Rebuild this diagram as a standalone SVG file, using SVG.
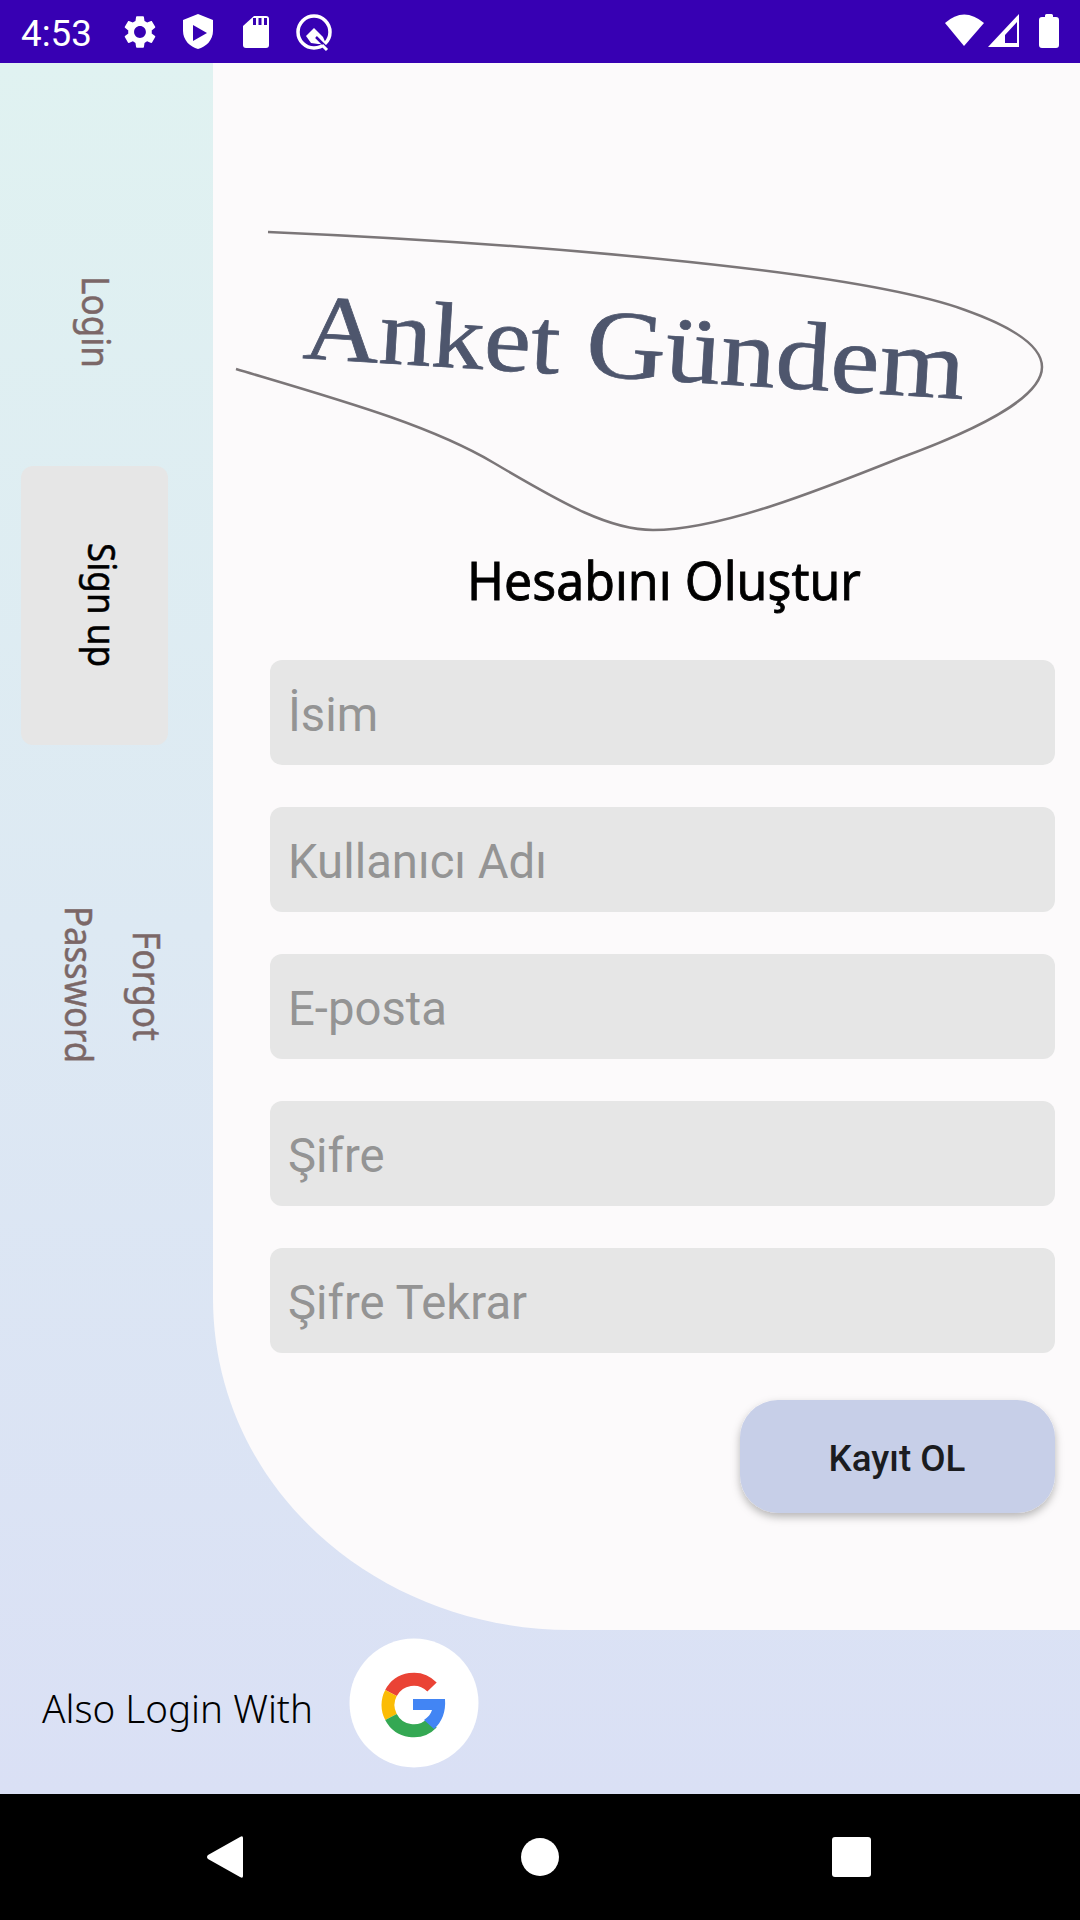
<svg xmlns="http://www.w3.org/2000/svg" width="1080" height="1920" viewBox="0 0 1080 1920">
<style>
.side{font-family:"Noto Sans","Open Sans",sans-serif;font-size:39px;fill:#7b6767;stroke:#7b6767;stroke-width:0.500}
.ph{font-family:Roboto,sans-serif;font-size:47.25px;fill:#949494}
.field{fill:#e6e6e6}
.sb{fill:#fff}
.hole{fill:#3700b3}
.g{fill:none;stroke-width:13}
</style>
<defs>
<linearGradient id="bg" x1="0" y1="63" x2="0" y2="1794" gradientUnits="userSpaceOnUse">
<stop offset="0" stop-color="#e0f2f1"/><stop offset="1" stop-color="#dae0f5"/>
</linearGradient>
<filter id="sh" x="-10%" y="-20%" width="120%" height="150%"><feDropShadow dx="0" dy="4" stdDeviation="4" flood-color="#000" flood-opacity="0.28"/></filter>
</defs>
<rect width="1080" height="1920" fill="url(#bg)"/>
<path d="M213 63H1080V1630H570C380 1630 213 1490 213 1298Z" fill="#fcfafb"/>
<g id="status-bar">
<rect width="1080" height="63" fill="#3700b3"/>
<text x="21" y="46" font-family="Roboto,sans-serif" font-size="36.75" fill="#fff">4:53</text>
<path class="sb" transform="translate(120.3,12.3) scale(1.64)" fill-rule="evenodd" d="M19.14 12.94c.04-.3.06-.61.06-.94 0-.32-.02-.64-.07-.94l2.03-1.58c.18-.14.23-.41.12-.61l-1.92-3.32c-.12-.22-.37-.29-.59-.22l-2.39.96c-.5-.38-1.03-.7-1.62-.94l-.36-2.54c-.04-.24-.24-.41-.48-.41h-3.84c-.24 0-.43.17-.47.41l-.36 2.54c-.59.24-1.13.57-1.62.94l-2.39-.96c-.22-.08-.47 0-.59.22L2.74 8.87c-.12.21-.08.47.12.61l2.03 1.58c-.05.3-.07.63-.07.94s.02.64.07.94l-2.03 1.58c-.18.14-.23.41-.12.61l1.92 3.32c.12.22.37.29.59.22l2.39-.96c.5.38 1.03.7 1.62.94l.36 2.54c.05.24.24.41.48.41h3.84c.24 0 .44-.17.47-.41l.36-2.54c.59-.24 1.13-.56 1.62-.94l2.39.96c.22.08.47 0 .59-.22l1.92-3.32c.12-.22.07-.47-.12-.61l-2.01-1.58zM12 15.6c-1.98 0-3.6-1.62-3.6-3.6s1.62-3.6 3.6-3.6 3.6 1.62 3.6 3.6-1.62 3.6-3.6 3.6z"/>
<path class="sb" d="M198 14L213 20V31C213 40 206 47 198 49C190 47 183 40 183 31V20Z"/>
<path class="hole" d="M193 25L207 33L193 41Z"/>
<path class="sb" d="M254 16H266Q269 16 269 19V45Q269 48 266 48H246Q243 48 243 45V26Z"/>
<path class="hole" d="M253 18h3v7h-3zM258.500 18h3v7h-3zM264 18h3v7h-3z"/>
<circle cx="314" cy="32" r="16" fill="none" stroke="#fff" stroke-width="3.500"/>
<path class="sb" d="M306 36L314 28L323 37L326 44L318 44L311 43Z"/>
<path d="M316 37L328 49" stroke="#3700b3" stroke-width="2.500"/>
<path d="M322 45L327 50" stroke="#fff" stroke-width="3"/>
<path class="sb" d="M945 23Q964 6 984 23L964 46Z"/>
<path class="sb" fill-rule="evenodd" d="M988 47L1019 14V47ZM1005 43H1017V22L1005 35Z"/>
<path class="sb" d="M1045 17V15.500Q1045 14 1046.500 14H1051.500Q1053 14 1053 15.500V17H1056Q1059 17 1059 20V45Q1059 48 1056 48H1042Q1039 48 1039 45V20Q1039 17 1042 17Z"/>
</g>
<g id="nav-login"><text class="side" transform="translate(82,276) rotate(90)" textLength="92" lengthAdjust="spacingAndGlyphs">Login</text></g>
<g id="nav-signup">
<rect x="21" y="466" width="147" height="279" rx="12" fill="#e6e6e6"/>
<text class="side" style="fill:#000;stroke:#000" transform="translate(88,543) rotate(90)" textLength="124" lengthAdjust="spacingAndGlyphs">Sign up</text>
</g>
<g id="nav-forgot">
<text class="side" transform="translate(133,931) rotate(90)" textLength="110" lengthAdjust="spacingAndGlyphs">Forgot</text>
<text class="side" transform="translate(65,906) rotate(90)" textLength="157" lengthAdjust="spacingAndGlyphs">Password</text>
</g>
<g id="logo">
<path d="M268 232C500 242 850 268 965 310C1010 326 1042 345 1042 367C1042 395 990 425 900 458C820 490 720 530 653 530C610 530 565 505 494 463C430 425 340 400 236 369" fill="none" stroke="#7b7678" stroke-width="2.500"/>
<text transform="matrix(1.128 0.07 -0.062 1 302 358)" font-family="'Liberation Serif',serif" fill="#4e566d" stroke="#4e566d" stroke-width="0.700"><tspan font-size="93">Anket </tspan><tspan font-size="97.500">Gündem</tspan></text>
</g>
<text id="title" x="664" y="600" text-anchor="middle" font-family="'Noto Sans',sans-serif" font-size="52" fill="#000" stroke="#000" stroke-width="0.800" textLength="394" lengthAdjust="spacingAndGlyphs">Hesabını Oluştur</text>
<g id="field-name"><rect class="field" x="270" y="660" width="785" height="105" rx="12"/><text class="ph" x="288" y="731">İsim</text></g>
<g id="field-user"><rect class="field" x="270" y="807" width="785" height="105" rx="12"/><text class="ph" x="288" y="878">Kullanıcı Adı</text></g>
<g id="field-email"><rect class="field" x="270" y="954" width="785" height="105" rx="12"/><text class="ph" x="288" y="1025">E-posta</text></g>
<g id="field-pass"><rect class="field" x="270" y="1101" width="785" height="105" rx="12"/><text class="ph" x="288" y="1172">Şifre</text></g>
<g id="field-pass2"><rect class="field" x="270" y="1248" width="785" height="105" rx="12"/><text class="ph" x="288" y="1319">Şifre Tekrar</text></g>
<g id="submit">
<rect x="740" y="1400" width="315" height="113" rx="38" fill="#c7cfe8" filter="url(#sh)"/>
<text x="897" y="1471" text-anchor="middle" font-family="Roboto,sans-serif" font-weight="500" font-size="36.75" fill="#1b1c20">Kayıt OL</text>
</g>
<text id="also" x="42" y="1723" font-family="'Noto Sans',sans-serif" font-weight="300" font-size="38" fill="#000" textLength="271" lengthAdjust="spacingAndGlyphs">Also Login With</text>
<g id="google">
<circle cx="414" cy="1703" r="64.500" fill="#fff"/>
<path class="g" stroke="#ea4335" d="M432 1687A25.500 25.500 0 0 0 391 1693"/>
<path class="g" stroke="#fbbc05" d="M391 1693A25.500 25.500 0 0 0 391 1717"/>
<path class="g" stroke="#34a853" d="M391 1717A25.500 25.500 0 0 0 432 1723"/>
<path fill="#4285f4" d="M413 1699H445C446 1712 442 1722 434 1729L424 1720C428 1717 431 1714 432 1710H413Z"/>
</g>
<g id="system-nav">
<rect y="1794" width="1080" height="126" fill="#000"/>
<path d="M243 1838V1876Q243 1879 240 1877L208 1859Q206 1857 208 1855L240 1837Q243 1835 243 1838Z" fill="#fff"/>
<circle cx="540" cy="1857" r="19" fill="#fff"/>
<rect x="832" y="1837" width="39" height="40" rx="3" fill="#fff"/>
</g>
</svg>
